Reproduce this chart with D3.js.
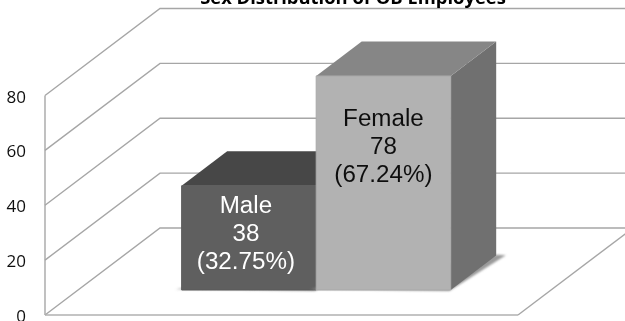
<!DOCTYPE html>
<html><head><meta charset="utf-8">
<script src="https://cdn.jsdelivr.net/npm/d3@7/dist/d3.min.js"></script>
<style>html,body{margin:0;padding:0;background:#fff;overflow:hidden}svg{display:block}</style>
</head><body><svg id="c" width="625" height="321"></svg>
<script>
const titleText = "Sex Distribution of OB Employees";
const categories = ["Male", "Female"];
const values = [38, 78];
const percents = ["32.75", "67.24"];
const yTicks = [0, 20, 40, 60, 80];
const yLabels = [0, 20, 40, 60, 80];
const frontColors = ["#5f5f5f", "#b2b2b2"];
const topColors = ["#474747", "#868686"];
const sideColors = ["#4a4a4a", "#707070"];
const textColors = ["#ffffff", "#111111"];

const svg = d3.select("#c");
const defs = svg.append("defs");
defs.append("filter").attr("id","soft").attr("filterUnits","userSpaceOnUse").attr("x",0).attr("y",-10).attr("width",640).attr("height",340)
  .append("feGaussianBlur").attr("stdDeviation",0.4);
defs.append("filter").attr("id","shadow").attr("x","-20%").attr("y","-40%").attr("width","140%").attr("height","180%")
  .append("feGaussianBlur").attr("stdDeviation",1.3);

const y = d3.scaleLinear().domain([0,80]).range([315,95.5]);
const x = d3.scaleBand().domain(categories).range([45,518]).paddingInner(0).paddingOuter(0.758).align(0.508);
const DX = 115, DY = -87;
const P = (px, v, d) => [px + DX*d, y(v) + DY*d];
const line = d3.line();
const root = svg.append("g").attr("filter","url(#soft)");

const grid = root.append("g").attr("fill","none").attr("stroke","#a6a6a6").attr("stroke-width",1.4);
yTicks.forEach(t => {
  grid.append("path").attr("d", line([P(45,t,0),P(45,t,1),P(640,t,1)]));
});
grid.append("path").attr("d", line([P(45,0,0),P(45,80,0)]));
grid.append("path").attr("d", line([P(518,0,0),P(518,0,1)]));
grid.append("path").attr("d", line([P(45,0,0),P(518,0,0)])).attr("stroke","#b0b0b0").attr("stroke-width",1.6);

const d0 = 0.2874, d1 = 0.683;
const bars = root.append("g");
categories.forEach((c,i) => {
  const xl = x(c), xr = x(c)+x.bandwidth(), v = values[i];
  const g = bars.append("g");
  g.append("path").attr("filter","url(#shadow)").attr("fill","#9a9a9a")
   .attr("d", line([P(xl-7,0,d0+0.01),P(xr,0,d0-0.012),P(xr+9,0,d1+0.005),P(xr,0,d1+0.01)])+"Z");
  g.append("path").attr("fill",sideColors[i]).attr("d", line([P(xr,0,d0),P(xr,v,d0),P(xr,v,d1),P(xr,0,d1)])+"Z");
  g.append("path").attr("fill",topColors[i]).attr("d", line([P(xl,v,d0),P(xr,v,d0),P(xr,v,d1),P(xl,v,d1)])+"Z");
  const fp = line([P(xl,0,d0),P(xr,0,d0),P(xr,v,d0),P(xl,v,d0)])+"Z";
  g.append("path").attr("fill",frontColors[i]).attr("stroke",d3.color(frontColors[i]).darker(0.15)).attr("stroke-width",1).attr("d",fp);
});

const labelY = d3.scaleLinear().domain(values).range([232,145]);
const labels = root.append("g").attr("font-family","'Liberation Sans',Arial,sans-serif").attr("text-anchor","middle");
categories.forEach((c,i) => {
  const cx = x(c)+x.bandwidth()/2 + DX*d0 - 3 + i*3;
  [c, String(values[i]), "("+percents[i]+"%)"].forEach((s,j) => {
    labels.append("text").attr("transform",`translate(${cx},${labelY(values[i])+8.5+(j-1)*28}) scale(1.03,1)`)
      .attr("font-size",23.5).attr("fill",textColors[i]).text(s);
  });
});

const yg = root.append("g").attr("font-family","'Open Sans','Noto Sans',sans-serif").attr("font-size",17).attr("fill","#111").attr("text-anchor","end");
yLabels.forEach(t => yg.append("text").attr("x",26).attr("y",y(t)+7).text(t));

root.append("text").attr("x",353).attr("y",4).attr("text-anchor","middle")
  .attr("font-family","'Open Sans','Noto Sans',sans-serif").attr("font-weight",700).attr("font-size",18.4).attr("fill","#000").text(titleText);
</script></body></html>
